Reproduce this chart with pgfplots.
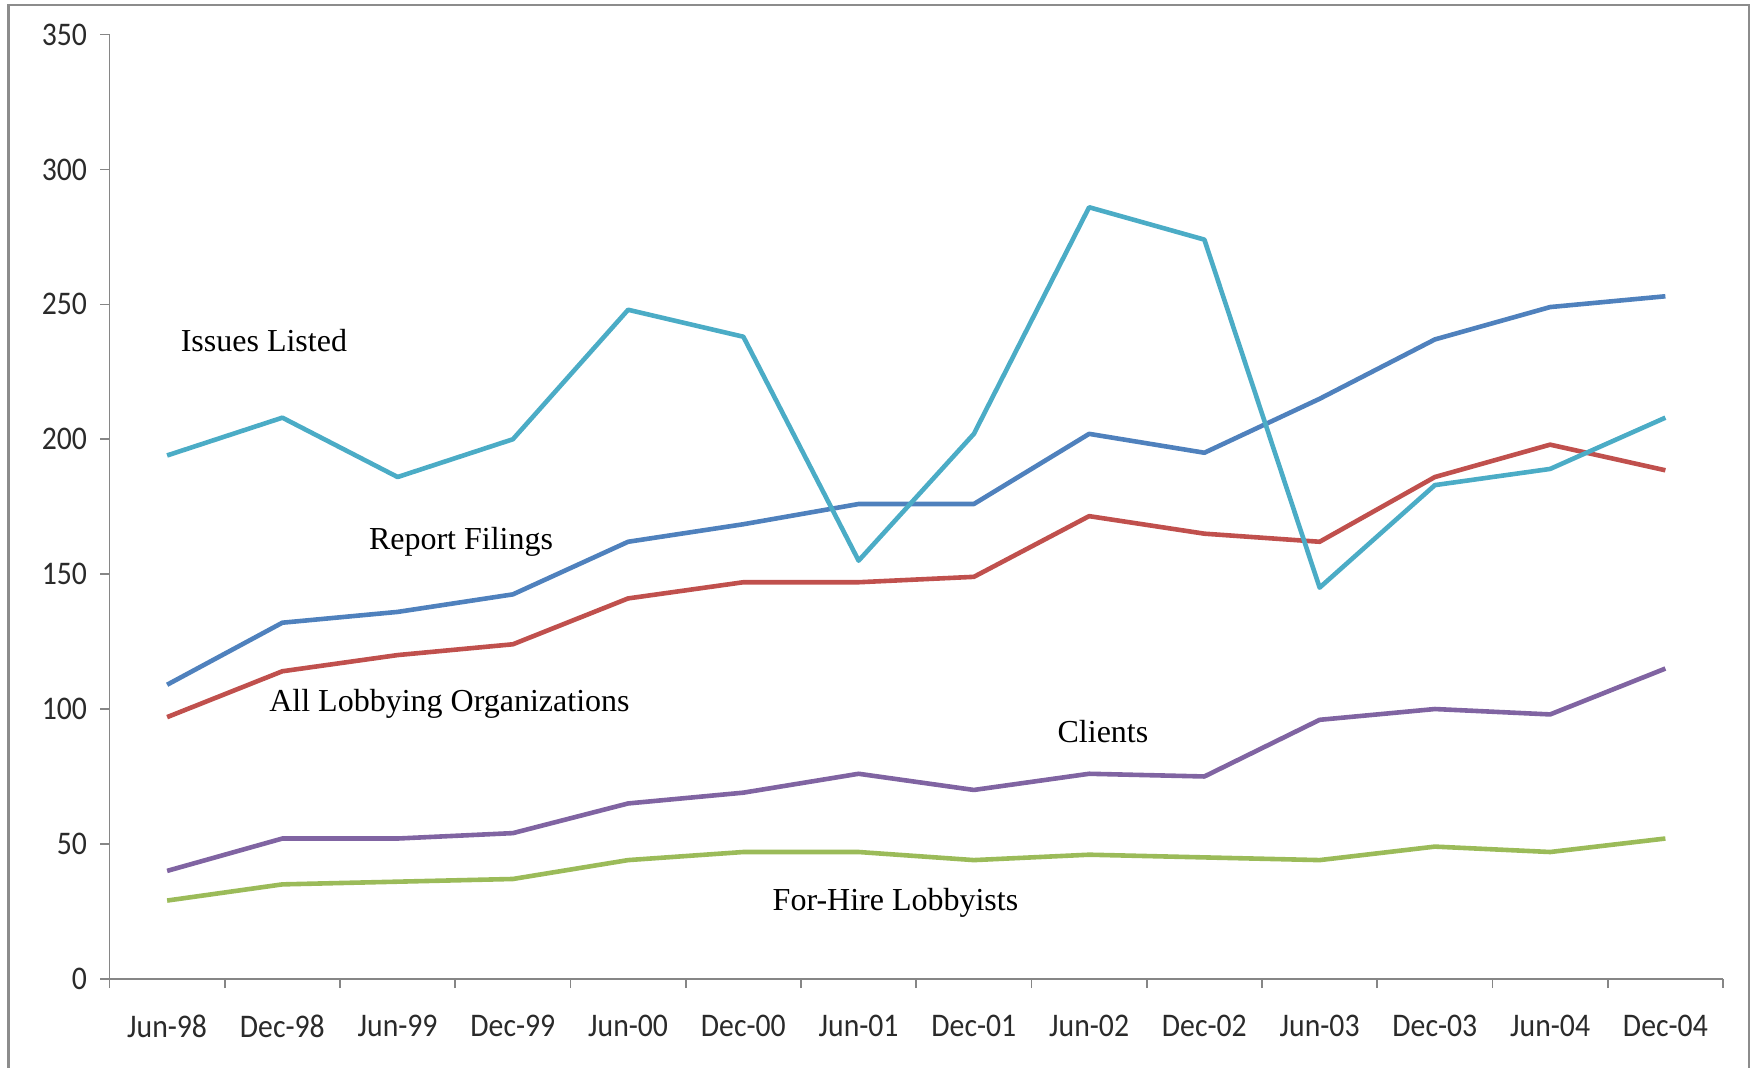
\documentclass[border=0pt]{standalone}
\usepackage{fontspec}
\setmainfont{Liberation Serif}
\newfontfamily\tickfont[FakeStretch=0.9]{Carlito}
\usepackage{pgfplots}
\pgfplotsset{compat=1.18}
\definecolor{cIss}{HTML}{4BACC6}
\definecolor{cRep}{HTML}{4F81BD}
\definecolor{cOrg}{HTML}{C0504D}
\definecolor{cCli}{HTML}{8064A2}
\definecolor{cHir}{HTML}{9BBB59}
\definecolor{frameGray}{HTML}{8C8C8C}
\definecolor{axisGray}{HTML}{868686}
\definecolor{tickText}{HTML}{2A2A2A}
\begin{document}
\begin{tikzpicture}
\path[use as bounding box] (0,0) rectangle (876pt,533.5pt);
\draw[color=frameGray, line width=1.1pt] (4.25pt,-3pt) -- (4.25pt,531pt) -- (874.5pt,531pt) -- (874.5pt,-3pt);
\begin{axis}[
  at={(54.75pt,44.1pt)}, anchor=south west,
  scale only axis, width=806.75pt, height=472.1pt,
  xmin=-0.5, xmax=13.5, ymin=0, ymax=350,
  clip=false,
  axis lines=left,
  axis line style={-, color=axisGray, line width=0.8pt},
  xtick={0,...,13},
  xticklabels={Jun-98,Dec-98,Jun-99,Dec-99,Jun-00,Dec-00,Jun-01,Dec-01,Jun-02,Dec-02,Jun-03,Dec-03,Jun-04,Dec-04},
  major x tick style={draw=none},
  minor xtick={-0.5,0.5,...,13.5},
  ytick={0,50,...,350},
  tick align=outside,
  tick style={color=axisGray, line width=0.8pt},
  major tick length=4.7pt, minor tick length=4.7pt,
  tick label style={font=\tickfont\fontsize{16.5}{17}\selectfont, color=tickText},
  /pgf/number format/assume math mode=true,
  xticklabel style={anchor=north, yshift=-10pt},
  yticklabel style={xshift=-3pt},
  line join=round,
]
\addplot[cRep, line width=2.3pt, mark=none] coordinates {
(0,109) (1,132) (2,136) (3,142.5) (4,162) (5,168.5) (6,176) (7,176) (8,202) (9,195) (10,215) (11,237) (12,249) (13,253)};
\addplot[cOrg, line width=2.3pt, mark=none] coordinates {
(0,97) (1,114) (2,120) (3,124) (4,141) (5,147) (6,147) (7,149) (8,171.5) (9,165) (10,162) (11,186) (12,198) (13,188.5)};
\addplot[cCli, line width=2.3pt, mark=none] coordinates {
(0,40) (1,52) (2,52) (3,54) (4,65) (5,69) (6,76) (7,70) (8,76) (9,75) (10,96) (11,100) (12,98) (13,115)};
\addplot[cHir, line width=2.3pt, mark=none] coordinates {
(0,29) (1,35) (2,36) (3,37) (4,44) (5,47) (6,47) (7,44) (8,46) (9,45) (10,44) (11,49) (12,47) (13,52)};
\addplot[cIss, line width=2.3pt, mark=none] coordinates {
(0,194) (1,208) (2,186) (3,200) (4,248) (5,238) (6,155) (7,202) (8,286) (9,274) (10,145) (11,183) (12,189) (13,208)};
\node[font=\fontsize{16}{18}\selectfont] at (axis cs:0.84,236.5) {Issues Listed};
\node[font=\fontsize{16}{18}\selectfont] at (axis cs:2.55,162) {Report Filings};
\node[font=\fontsize{16}{18}\selectfont] at (axis cs:2.45,102) {All Lobbying Organizations};
\node[font=\fontsize{16}{18}\selectfont] at (axis cs:8.12,91.5) {Clients};
\node[font=\fontsize{16}{18}\selectfont] at (axis cs:6.32,28) {For-Hire Lobbyists};
\end{axis}
\end{tikzpicture}
\end{document}
